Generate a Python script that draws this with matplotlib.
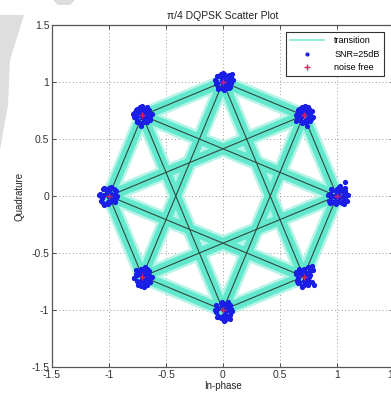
import matplotlib
matplotlib.use('Agg')
from matplotlib import pyplot as plt
from matplotlib.patches import Polygon

plt.rcParams['font.family'] = ['Liberation Sans', 'DejaVu Sans']

# noise free pi/4 DQPSK constellation (8 phases)
ideal_i = [1.0, 0.707, 0.0, -0.707, -1.0, -0.707, 0.0, 0.707]
ideal_q = [0.0, 0.707, 1.0, 0.707, 0.0, -0.707, -1.0, -0.707]

# allowed phase transitions (+-pi/4, +-3pi/4)
transitions = [(0, 1), (1, 2), (2, 3), (3, 4), (4, 5), (5, 6), (6, 7), (7, 0),
               (0, 3), (1, 4), (2, 5), (3, 6), (4, 7), (5, 0), (6, 1), (7, 2)]

# received symbols at SNR=25dB, offsets from the ideal point
noise_dx = [
    [-0.06, -0.04, 0.00, 0.02, 0.05, 0.07, -0.02, 0.01, 0.04, -0.05, 0.06, 0.08, -0.01, 0.02, 0.09, -0.07, 0.00, 0.05,
     -0.04, 0.07, 0.04, -0.02, 0.01, 0.07, 0.06, -0.05, 0.10, 0.00, 0.02, -0.06, 0.05, -0.01, 0.07, 0.03, -0.08],
    [-0.05, -0.02, 0.01, 0.04, 0.06, -0.07, 0.00, 0.02, -0.04, 0.05, -0.01, 0.07, -0.06, 0.02, 0.00, 0.04, -0.02, 0.06,
     0.01, -0.05, 0.08, -0.04, 0.05, 0.02, -0.07, 0.00, 0.04, -0.01, 0.06, 0.03, -0.04, 0.01, 0.07, -0.02, 0.05],
    [-0.06, -0.04, 0.00, 0.02, 0.05, -0.01, 0.04, -0.05, 0.06, 0.01, -0.02, 0.07, 0.00, -0.07, 0.02, 0.05, -0.04, 0.01,
     0.08, -0.01, 0.04, -0.06, 0.06, 0.00, 0.02, -0.02, 0.09, -0.05, 0.05, 0.01, -0.04, 0.07, 0.02, -0.01, 0.04],
    [-0.07, -0.05, -0.01, 0.02, 0.05, -0.04, 0.00, 0.04, -0.06, 0.06, 0.01, -0.02, 0.07, -0.08, 0.02, -0.01, 0.05, 0.00,
     -0.05, 0.04, 0.08, -0.02, 0.01, -0.06, 0.06, 0.02, -0.04, 0.00, 0.05, 0.07, -0.07, 0.04, -0.01, 0.01, -0.05],
    [-0.08, -0.06, -0.02, 0.00, 0.04, -0.05, 0.01, 0.05, -0.07, 0.02, -0.01, 0.06, -0.04, 0.00, 0.04, -0.09, 0.01, -0.02,
     0.05, -0.06, 0.02, 0.07, -0.04, 0.00, -0.05, 0.04, 0.01, -0.07, 0.06, -0.01, 0.02, -0.04, 0.00, 0.05, -0.02],
    [-0.06, -0.04, 0.00, 0.02, 0.05, -0.07, 0.01, 0.04, -0.02, 0.06, -0.05, 0.00, 0.07, -0.01, 0.02, -0.06, 0.04, 0.08,
     -0.04, 0.01, 0.05, -0.02, 0.06, 0.00, -0.05, 0.02, 0.04, -0.07, 0.01, 0.05, -0.01, 0.07, -0.04, 0.02, 0.00],
    [-0.06, -0.04, 0.00, 0.02, 0.05, -0.05, 0.01, 0.04, -0.02, 0.07, -0.07, 0.00, 0.06, -0.01, 0.02, 0.08, -0.04, 0.05,
     0.01, -0.06, 0.04, -0.02, 0.06, 0.00, 0.02, -0.05, 0.07, 0.01, -0.01, 0.04, -0.04, 0.05, 0.00, 0.02, 0.06],
    [-0.07, -0.04, 0.00, 0.02, 0.05, -0.05, 0.01, 0.04, -0.02, 0.06, -0.06, 0.00, 0.07, -0.01, 0.02, 0.08, -0.04, 0.05,
     0.01, -0.07, 0.04, -0.02, 0.06, 0.00, 0.02, -0.05, 0.09, 0.01, -0.01, 0.04, -0.04, 0.05, 0.00, 0.07, 0.02],
]
noise_dy = [
    [0.02, -0.05, 0.06, -0.02, 0.04, -0.01, 0.00, 0.02, -0.06, -0.01, 0.06, 0.02, -0.07, 0.08, -0.04, -0.04, -0.02, 0.00,
     0.05, 0.07, 0.04, -0.04, -0.05, 0.12, -0.07, 0.06, 0.01, 0.00, 0.05, -0.06, -0.04, 0.04, 0.04, 0.09, 0.01],
    [0.04, -0.05, 0.06, -0.02, 0.01, 0.00, -0.06, 0.05, 0.02, -0.04, 0.07, 0.04, -0.02, -0.07, 0.02, 0.00, -0.01, -0.05,
     0.08, 0.05, -0.01, 0.06, 0.04, -0.04, -0.05, 0.01, 0.07, -0.07, 0.00, -0.09, 0.00, 0.04, -0.02, 0.05, 0.06],
    [0.01, -0.04, 0.06, -0.06, 0.02, 0.04, -0.02, -0.01, 0.00, 0.07, -0.05, 0.04, -0.02, 0.02, 0.01, -0.05, 0.05, -0.07,
     0.07, 0.00, 0.05, -0.02, -0.04, 0.08, -0.01, 0.07, 0.02, 0.05, 0.06, 0.04, -0.06, -0.01, -0.05, 0.02, 0.00],
    [0.02, -0.04, 0.06, -0.05, 0.04, 0.05, -0.01, 0.01, -0.02, 0.00, -0.06, 0.07, -0.04, 0.01, 0.06, -0.07, -0.02, 0.02,
     -0.06, 0.07, 0.01, 0.04, -0.04, 0.05, 0.05, -0.01, 0.00, 0.08, 0.04, -0.02, -0.01, -0.06, -0.09, 0.04, 0.06],
    [0.02, -0.02, 0.05, -0.05, 0.01, -0.06, 0.06, -0.01, 0.00, 0.02, -0.07, 0.04, 0.07, 0.00, -0.04, 0.01, -0.05, 0.04,
     0.05, -0.02, -0.02, 0.00, -0.08, 0.07, 0.06, 0.06, 0.02, -0.04, -0.02, -0.05, 0.08, 0.01, -0.01, -0.05, 0.02],
    [0.02, -0.05, 0.06, -0.02, 0.04, -0.01, 0.00, -0.07, 0.05, 0.01, -0.04, 0.07, -0.05, -0.08, 0.02, 0.06, 0.05, 0.00,
     -0.06, 0.04, -0.02, 0.02, 0.05, -0.04, 0.01, -0.06, 0.07, -0.01, -0.09, 0.06, 0.07, -0.05, -0.07, 0.08, -0.02],
    [0.04, -0.05, 0.06, -0.02, 0.02, -0.06, 0.00, 0.05, -0.07, 0.01, 0.00, -0.08, -0.04, 0.07, -0.09, -0.01, 0.02, -0.06,
     0.05, -0.02, -0.07, 0.06, 0.04, -0.05, 0.04, 0.01, -0.02, -0.10, 0.04, 0.07, -0.06, 0.00, -0.07, -0.04, -0.08],
    [0.02, -0.05, 0.06, -0.02, 0.04, -0.01, 0.00, -0.07, 0.05, 0.01, -0.04, 0.07, -0.05, -0.08, 0.02, 0.06, 0.05, 0.00,
     -0.06, 0.04, -0.02, 0.02, 0.05, -0.04, 0.01, -0.06, -0.07, -0.01, -0.09, 0.08, 0.07, -0.05, -0.07, 0.09, -0.02],
]

fig = plt.figure(figsize=(3.91, 3.98), dpi=100)

# faint grey watermark shapes in the corner of the original image
fig.patches.append(Polygon([[0, 1 - 15 / 398], [24 / 391, 1 - 15 / 398], [10 / 391, 1 - 60 / 398],
                            [8 / 391, 1 - 105 / 398], [0, 1 - 150 / 398]],
                           closed=True, transform=fig.transFigure, fc='#dedede', ec='none', zorder=0))
fig.patches.append(Polygon([[53 / 391, 1], [75 / 391, 1], [70 / 391, 1 - 5 / 398], [58 / 391, 1 - 5 / 398]],
                           closed=True, transform=fig.transFigure, fc='#dedede', ec='none', zorder=0))

ax = fig.add_axes([52 / 391, 31 / 398, 342 / 391, 342 / 398])
ax.patch.set_alpha(0)

for a, b in transitions:
    xs = [ideal_i[a], ideal_i[b]]
    ys = [ideal_q[a], ideal_q[b]]
    ax.plot(xs, ys, color='#b8f4e8', lw=11, solid_capstyle='round', zorder=2)
for a, b in transitions:
    xs = [ideal_i[a], ideal_i[b]]
    ys = [ideal_q[a], ideal_q[b]]
    ax.plot(xs, ys, color='#62e8cc', lw=7.5, solid_capstyle='round', zorder=3)
for a, b in transitions:
    xs = [ideal_i[a], ideal_i[b]]
    ys = [ideal_q[a], ideal_q[b]]
    ax.plot(xs, ys, color='#2e4a40', lw=0.8, zorder=4)

for k in range(len(ideal_i)):
    px = [ideal_i[k] + d for d in noise_dx[k]]
    py = [ideal_q[k] + d for d in noise_dy[k]]
    ax.plot(px, py, '.', color='#1a1ee6', ms=5.5, mec='#1a1ee6', zorder=5)
ax.plot(ideal_i, ideal_q, '+', color='#e0205a', ms=5, mew=1.0, zorder=6)

# legend handles
ax.plot([], [], color='#7fecd6', lw=1.2, label='transition')
ax.plot([], [], '.', color='#1a1ee6', ms=4, label='SNR=25dB')
ax.plot([], [], '+', color='#e0205a', ms=5, mew=1.0, label='noise free')
h, l = ax.get_legend_handles_labels()
leg = ax.legend(h[-3:], l[-3:], loc='upper right', bbox_to_anchor=(0.983, 0.992), fontsize=6.5,
                handlelength=3.8, handletextpad=1.1, borderpad=0.45, labelspacing=0.5,
                fancybox=False, framealpha=1, edgecolor='#333333')
leg.get_frame().set_linewidth(0.8)
leg.set_zorder(10)

ax.set_xlim(-1.5, 1.5)
ax.set_ylim(-1.5, 1.5)
ax.set_xticks([-1.5, -1, -0.5, 0, 0.5, 1, 1.5])
ax.set_yticks([-1.5, -1, -0.5, 0, 0.5, 1, 1.5])
ax.set_xticklabels(['-1.5', '-1', '-0.5', '0', '0.5', '1', '1.5'])
ax.set_yticklabels(['-1.5', '-1', '-0.5', '0', '0.5', '1', '1.5'])
ax.grid(True, linestyle=(0, (1, 2.5)), color='#9a9a9a', lw=0.7, zorder=1)
ax.set_axisbelow(True)
ax.tick_params(direction='in', length=3, width=0.6, top=True, right=True, labelsize=7.5, pad=2,
               colors='#333333')
for s in ax.spines.values():
    s.set_color('#555555')
    s.set_linewidth(0.9)

ax.set_title('\u03c0/4 DQPSK Scatter Plot', fontsize=7.5, pad=4, color='#222222')
ax.set_xlabel('In-phase', fontsize=7, labelpad=1, color='#222222')
ax.set_ylabel('Quadrature', fontsize=7, labelpad=5, color='#222222')

fig.savefig('out.png', dpi=100)
